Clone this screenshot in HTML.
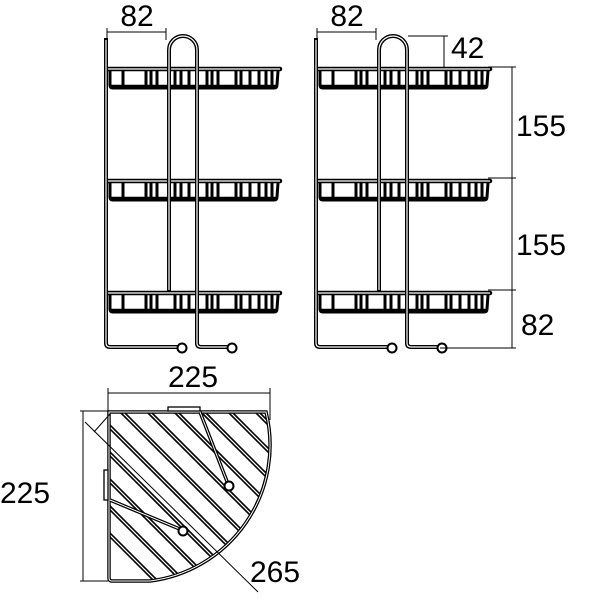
<!DOCTYPE html>
<html><head><meta charset="utf-8"><style>html,body{margin:0;padding:0;background:#fff}svg{display:block}</style></head>
<body>
<svg width="600" height="600" viewBox="0 0 600 600" xmlns="http://www.w3.org/2000/svg" font-family="Liberation Sans, sans-serif">
<defs>
<g id="shelf">
  <line x1="108" y1="69" x2="280" y2="69" stroke="#000" stroke-width="4.5" stroke-linecap="round"/>
  <line x1="108" y1="69" x2="280" y2="69" stroke="#fff" stroke-width="1.2"/>
  <path d="M110,71 L110,85 Q110,88 113,88 L274,88 Q277,88 277,85 L278,71" fill="none" stroke="#000" stroke-width="3"/>
  <line x1="111" y1="86.5" x2="276" y2="86.5" stroke="#000" stroke-width="3.5"/>
  <g stroke="#000" stroke-width="3">
    <line x1="123" y1="71" x2="123" y2="88"/><line x1="146" y1="71" x2="146" y2="88"/><line x1="151" y1="71" x2="151" y2="88"/>
    <line x1="157" y1="71" x2="157" y2="88"/><line x1="175" y1="71" x2="175" y2="88"/><line x1="181" y1="71" x2="181" y2="88"/>
    <line x1="189" y1="71" x2="189" y2="88"/><line x1="207" y1="71" x2="207" y2="88"/><line x1="212" y1="71" x2="212" y2="88"/>
    <line x1="218" y1="71" x2="218" y2="88"/><line x1="236" y1="71" x2="236" y2="88"/><line x1="241" y1="71" x2="241" y2="88"/>
    <line x1="250" y1="71" x2="250" y2="88"/><line x1="259" y1="71" x2="259" y2="88"/><line x1="266" y1="71" x2="266" y2="88"/>
    <line x1="272" y1="71" x2="272" y2="88"/>
  </g>
</g>
<g id="side">
  <use href="#shelf"/>
  <use href="#shelf" y="112"/>
  <use href="#shelf" y="224"/>
  <g fill="none" stroke="#000" stroke-width="4" stroke-linejoin="round">
    <path d="M106,38 L106,343 Q106,347 110,347 L178,347"/>
    <path d="M169,292 L169,50 A14,14 0 0 1 197,50 L197,343 Q197,347 201,347 L228,347"/>
  </g>
  <g fill="none" stroke="#fff" stroke-width="1.2">
    <path d="M106,40 L106,343 Q106,347 110,347 L178,347"/>
    <path d="M169,290 L169,50 A14,14 0 0 1 197,50 L197,343 Q197,347 201,347 L228,347"/>
  </g>
  <circle cx="182" cy="348" r="4.5" fill="#fff" stroke="#000" stroke-width="2"/>
  <circle cx="232" cy="348" r="4.5" fill="#fff" stroke="#000" stroke-width="2"/>
</g>
<clipPath id="cp"><path d="M109,412 L266,412 A137,137 0 0 1 150,581 L109,581 Z"/></clipPath>
</defs>

<use href="#side"/>
<use href="#side" x="210"/>

<g stroke="#000" stroke-width="1">
  <line x1="107" y1="28" x2="107" y2="40"/><line x1="166" y1="28" x2="166" y2="40"/>
  <line x1="107" y1="32" x2="166" y2="32"/>
  <line x1="317" y1="28" x2="317" y2="40"/><line x1="376" y1="28" x2="376" y2="40"/>
  <line x1="317" y1="32" x2="376" y2="32"/>
  <line x1="408" y1="36" x2="448" y2="36"/>
  <line x1="444" y1="36" x2="444" y2="67"/>
  <line x1="488" y1="67" x2="516" y2="67"/><line x1="488" y1="178" x2="516" y2="178"/>
  <line x1="488" y1="290" x2="516" y2="290"/><line x1="440" y1="348" x2="516" y2="348"/>
  <line x1="512" y1="67" x2="512" y2="348"/>
</g>
<g font-size="30" fill="#000">
  <text x="137" y="26" text-anchor="middle">82</text>
  <text x="347" y="26" text-anchor="middle">82</text>
  <text x="451" y="58">42</text>
  <text x="516" y="136">155</text>
  <text x="516" y="255">155</text>
  <text x="521" y="335">82</text>
  <text x="193" y="387" text-anchor="middle">225</text>
  <text x="0" y="503">225</text>
  <text x="250" y="582">265</text>
</g>

<g clip-path="url(#cp)">
  <g stroke="#000" stroke-width="4.5">
    <line x1="40" y1="330" x2="340" y2="630"/><line x1="67" y1="330" x2="367" y2="630"/>
    <line x1="94" y1="330" x2="394" y2="630"/><line x1="121" y1="330" x2="421" y2="630"/>
    <line x1="148" y1="330" x2="448" y2="630"/><line x1="175" y1="330" x2="475" y2="630"/>
    <line x1="13" y1="330" x2="313" y2="630"/><line x1="-14" y1="330" x2="286" y2="630"/>
    <line x1="-41" y1="330" x2="259" y2="630"/><line x1="-68" y1="330" x2="232" y2="630"/>
    <line x1="-95" y1="330" x2="205" y2="630"/>
  </g>
  <g stroke="#fff" stroke-width="1.2">
    <line x1="40" y1="330" x2="340" y2="630"/><line x1="67" y1="330" x2="367" y2="630"/>
    <line x1="94" y1="330" x2="394" y2="630"/><line x1="121" y1="330" x2="421" y2="630"/>
    <line x1="148" y1="330" x2="448" y2="630"/><line x1="175" y1="330" x2="475" y2="630"/>
    <line x1="13" y1="330" x2="313" y2="630"/><line x1="-14" y1="330" x2="286" y2="630"/>
    <line x1="-41" y1="330" x2="259" y2="630"/><line x1="-68" y1="330" x2="232" y2="630"/>
    <line x1="-95" y1="330" x2="205" y2="630"/>
  </g>
</g>
<path d="M109,412 L266,412 A137,137 0 0 1 150,581 L112,581 Q109,581 109,578 Z" fill="none" stroke="#000" stroke-width="3.5"/>
<path d="M109,412 L266,412 A137,137 0 0 1 150,581 L112,581 Q109,581 109,578 Z" fill="none" stroke="#fff" stroke-width="1"/>
<rect x="168" y="407" width="32" height="4" fill="#fff" stroke="#000" stroke-width="1.3"/>
<rect x="104" y="470" width="4" height="30" fill="#fff" stroke="#000" stroke-width="1.3"/>
<g fill="none" stroke="#000" stroke-width="3.5">
  <line x1="200" y1="412" x2="228" y2="484"/>
  <line x1="110" y1="500" x2="182" y2="530"/>
</g>
<g fill="none" stroke="#fff" stroke-width="1">
  <line x1="200" y1="412" x2="228" y2="484"/>
  <line x1="110" y1="500" x2="182" y2="530"/>
</g>
<circle cx="229" cy="486" r="4.5" fill="#fff" stroke="#000" stroke-width="2"/>
<circle cx="183" cy="531" r="4.5" fill="#fff" stroke="#000" stroke-width="2"/>
<g stroke="#000" stroke-width="1">
  <line x1="108" y1="388" x2="108" y2="411"/><line x1="270" y1="388" x2="270" y2="420"/>
  <line x1="108" y1="393" x2="270" y2="393"/>
  <line x1="80" y1="411" x2="108" y2="411"/><line x1="80" y1="581" x2="108" y2="581"/>
  <line x1="83" y1="411" x2="83" y2="581"/>
  <line x1="85" y1="422" x2="258" y2="592"/>
  <line x1="94" y1="432" x2="110" y2="414"/>
</g>
</svg>
</body></html>
